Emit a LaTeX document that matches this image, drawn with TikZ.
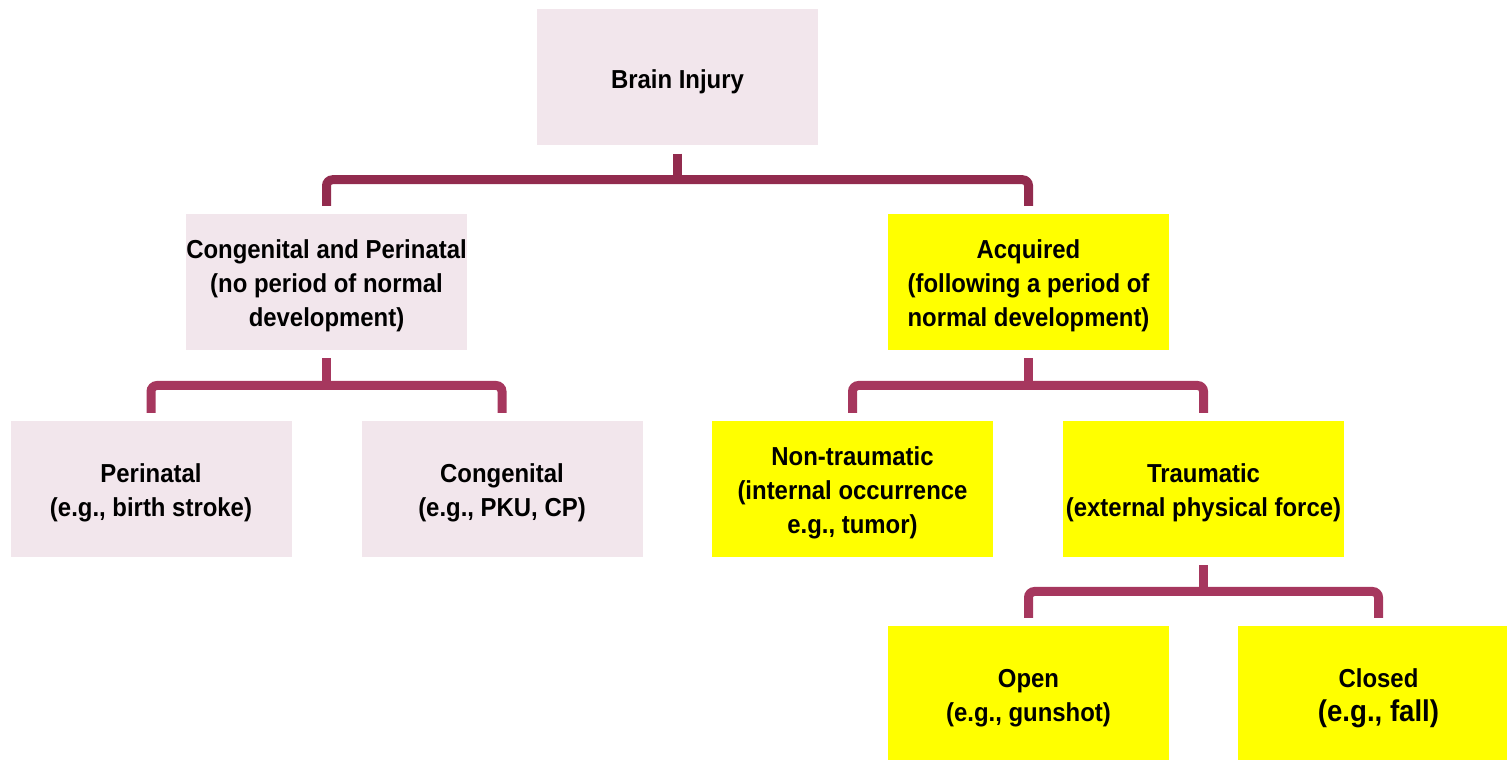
\documentclass[tikz,border=0pt]{standalone}
\usepackage{fontspec}
\setmainfont{Liberation Sans}[FakeStretch=0.92]
\usetikzlibrary{calc}

\definecolor{rosepale}{RGB}{242,230,236}
\definecolor{jaunevif}{RGB}{255,255,0}
\definecolor{lienfonce}{RGB}{146,43,78}
\definecolor{lien}{RGB}{166,55,94}
\newcommand{\haut}{\rule{0pt}{27pt}}

\begin{document}
\begin{tikzpicture}[x=1pt, y=1pt]
\tikzset{boite/.style={fill=rosepale, minimum width=281pt, minimum height=136pt, align=center, inner sep=0pt, font=\fontsize{26}{34}\selectfont\bfseries},
  jaune/.style={boite, fill=jaunevif},
  lien/.style={draw=lien, line width=9pt, rounded corners=6pt}}
\useasboundingbox (0, 0) rectangle (1507, 760);
\clip (0, 0) rectangle (1507, 760);
\node[boite] (brain) at (677.5, 682.5) {\haut Brain Injury};
\node[boite] (congen) at (326.5, 478) {\haut Congenital and Perinatal\\(no period of normal\\development)};
\node[jaune] (acq) at (1028.5, 478) {\haut Acquired\\(following a period of\\normal development)};
\node[boite] (peri) at (151, 271) {\haut Perinatal\\(e.g., birth stroke)};
\node[boite] (cong) at (502, 271) {\haut Congenital\\(e.g., PKU, CP)};
\node[jaune] (nontr) at (852.5, 271) {\haut Non-traumatic\\(internal occurrence\\e.g., tumor)};
\node[jaune] (traum) at (1203.5, 271) {\haut Traumatic\\(external physical force)};
\node[jaune] (open) at (1028.5, 66) {\haut Open\\(e.g., gunshot)};
\node[jaune] (closed) at (1378.5, 66) {\haut Closed\\{\fontsize{30}{34}\selectfont (e.g., fall)}};
\coordinate (j1) at ($(brain.south)!.5!(brain.south|-congen.north)$);
\coordinate (j2) at ($(congen.south)!.5!(congen.south|-peri.north)$);
\coordinate (j3) at ($(acq.south)!.5!(acq.south|-nontr.north)$);
\coordinate (j4) at ($(traum.south)!.5!(traum.south|-open.north)$);
\draw[lien, draw=lienfonce] ([yshift=-8pt]brain.south) -- (j1);
\draw[lien, draw=lienfonce] ([yshift=8pt]congen.north) |- (j1) -| ([yshift=8pt]acq.north);
\draw[lien] ([yshift=-8pt]congen.south) -- (j2);
\draw[lien] ([yshift=8pt]peri.north) |- (j2) -| ([yshift=8pt]cong.north);
\draw[lien] ([yshift=-8pt]acq.south) -- (j3);
\draw[lien] ([yshift=8pt]nontr.north) |- (j3) -| ([yshift=8pt]traum.north);
\draw[lien] ([yshift=-8pt]traum.south) -- (j4);
\draw[lien] ([yshift=8pt]open.north) |- (j4) -| ([yshift=8pt]closed.north);
\end{tikzpicture}
\end{document}
